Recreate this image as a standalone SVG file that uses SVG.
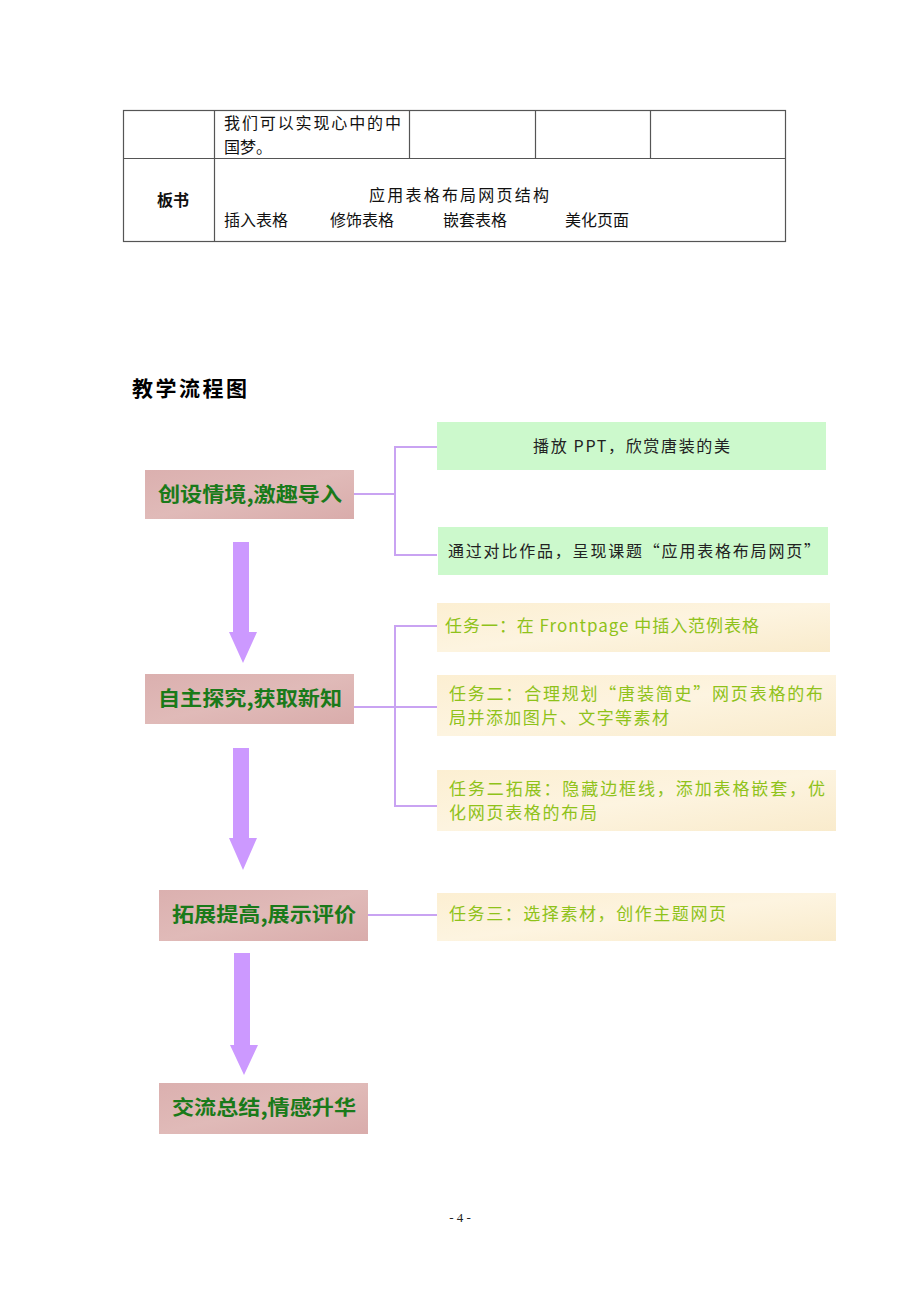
<svg xmlns="http://www.w3.org/2000/svg" width="920" height="1302" viewBox="0 0 920 1302">
<defs>
<style>
.tb{fill:none;stroke:#555;stroke-width:1.2}
.t{font-family:"Noto Sans CJK SC","Liberation Serif",serif;font-size:16px;fill:#111}
.title{font-family:"Noto Sans CJK SC",sans-serif;font-size:21px;font-weight:bold;fill:#000}
.node{fill:url(#pink)}
.nt{font-family:"Noto Sans CJK SC",sans-serif;font-size:20px;font-weight:bold;fill:#1a7a1a}
.gbox{fill:#ccf9cc}
.gt{font-family:"Noto Sans CJK SC",serif;font-size:16px;fill:#222}
.ybox{fill:url(#beige)}
.yt{font-family:"Noto Sans CJK SC",sans-serif;font-size:17px;fill:#8fc21a}
.con{fill:none;stroke:#c9a3f2;stroke-width:2}
.arr{fill:#cc99ff}
.pg{font-family:"Liberation Serif",serif;font-size:13px;fill:#222}
</style>
<linearGradient id="pink" x1="0" y1="0" x2="1" y2="1">
<stop offset="0" stop-color="#dbb0af"/><stop offset="0.5" stop-color="#e0bab8"/><stop offset="1" stop-color="#d9acab"/>
</linearGradient>
<linearGradient id="beige" x1="0" y1="0" x2="1" y2="1">
<stop offset="0" stop-color="#fcefd2"/><stop offset="0.5" stop-color="#fdf4e0"/><stop offset="1" stop-color="#f9ebcc"/>
</linearGradient>
</defs>

<g id="table">
<rect class="tb" x="123.5" y="110.5" width="662" height="131"/>
<line class="tb" x1="123" y1="158.5" x2="785" y2="158.5"/>
<line class="tb" x1="214.5" y1="110" x2="214.5" y2="241"/>
<line class="tb" x1="409.5" y1="110" x2="409.5" y2="158"/>
<line class="tb" x1="535.5" y1="110" x2="535.5" y2="158"/>
<line class="tb" x1="650.5" y1="110" x2="650.5" y2="158"/>
<text class="t" x="224" y="129" textLength="177" lengthAdjust="spacing">我们可以实现心中的中</text>
<text class="t" x="224" y="153">国梦。</text>
<text class="t" x="157" y="206" font-weight="bold">板书</text>
<text class="t" x="369" y="201" textLength="180" lengthAdjust="spacing">应用表格布局网页结构</text>
<text class="t" x="224" y="226">插入表格</text>
<text class="t" x="330" y="226">修饰表格</text>
<text class="t" x="443" y="226">嵌套表格</text>
<text class="t" x="565" y="226">美化页面</text>
</g>

<text class="title" x="132" y="396" textLength="115" lengthAdjust="spacing">教学流程图</text>

<g id="connectors">
<polyline class="con" points="354,494 395,494"/>
<polyline class="con" points="437,447 395,447 395,555 437,555"/>
<polyline class="con" points="354,707 437,707"/>
<polyline class="con" points="437,626 395,626 395,806 437,806"/>
<polyline class="con" points="368,915 437,915"/>
<polygon class="arr" points="233,542 249,542 249,632 257,632 243,663 229,632 233,632"/>
<polygon class="arr" points="233,748 249,748 249,838 257,838 243,870 229,838 233,838"/>
<polygon class="arr" points="234,953 250,953 250,1045 258,1045 244,1075 230,1045 234,1045"/>
</g>

<g id="n1">
<rect class="node" x="145" y="470" width="209" height="49"/>
<text class="nt" x="158" y="502" textLength="184" lengthAdjust="spacingAndGlyphs">创设情境,激趣导入</text>
</g>
<g id="g1">
<rect class="gbox" x="437" y="422" width="389" height="48"/>
<text class="gt" x="533" y="452" textLength="197" lengthAdjust="spacing">播放 PPT，欣赏唐装的美</text>
</g>
<g id="g2">
<rect class="gbox" x="438" y="527" width="390" height="48"/>
<text class="gt" x="448" y="557" textLength="372" lengthAdjust="spacing">通过对比作品，呈现课题“应用表格布局网页”</text>
</g>

<g id="n2">
<rect class="node" x="145" y="674" width="209" height="50"/>
<text class="nt" x="158" y="706" textLength="184" lengthAdjust="spacingAndGlyphs">自主探究,获取新知</text>
</g>
<g id="y1">
<rect class="ybox" x="437" y="603" width="393" height="49"/>
<text class="yt" x="445" y="632" textLength="314" lengthAdjust="spacing">任务一：在 Frontpage 中插入范例表格</text>
</g>
<g id="y2">
<rect class="ybox" x="437" y="675" width="399" height="61"/>
<text class="yt" x="449" y="700" textLength="374" lengthAdjust="spacing">任务二：合理规划“唐装简史”网页表格的布</text>
<text class="yt" x="449" y="724" textLength="220" lengthAdjust="spacing">局并添加图片、文字等素材</text>
</g>
<g id="y3">
<rect class="ybox" x="437" y="770" width="399" height="61"/>
<text class="yt" x="449" y="795" textLength="376" lengthAdjust="spacing">任务二拓展：隐藏边框线，添加表格嵌套，优</text>
<text class="yt" x="449" y="819" textLength="148" lengthAdjust="spacing">化网页表格的布局</text>
</g>

<g id="n3">
<rect class="node" x="159" y="890" width="209" height="51"/>
<text class="nt" x="172" y="922" textLength="184" lengthAdjust="spacingAndGlyphs">拓展提高,展示评价</text>
</g>
<g id="y4">
<rect class="ybox" x="437" y="893" width="399" height="48"/>
<text class="yt" x="449" y="920" textLength="277" lengthAdjust="spacing">任务三：选择素材，创作主题网页</text>
</g>

<g id="n4">
<rect class="node" x="159" y="1083" width="209" height="51"/>
<text class="nt" x="172" y="1115" textLength="184" lengthAdjust="spacingAndGlyphs">交流总结,情感升华</text>
</g>

<text class="pg" x="460" y="1222" text-anchor="middle">- 4 -</text>
</svg>
